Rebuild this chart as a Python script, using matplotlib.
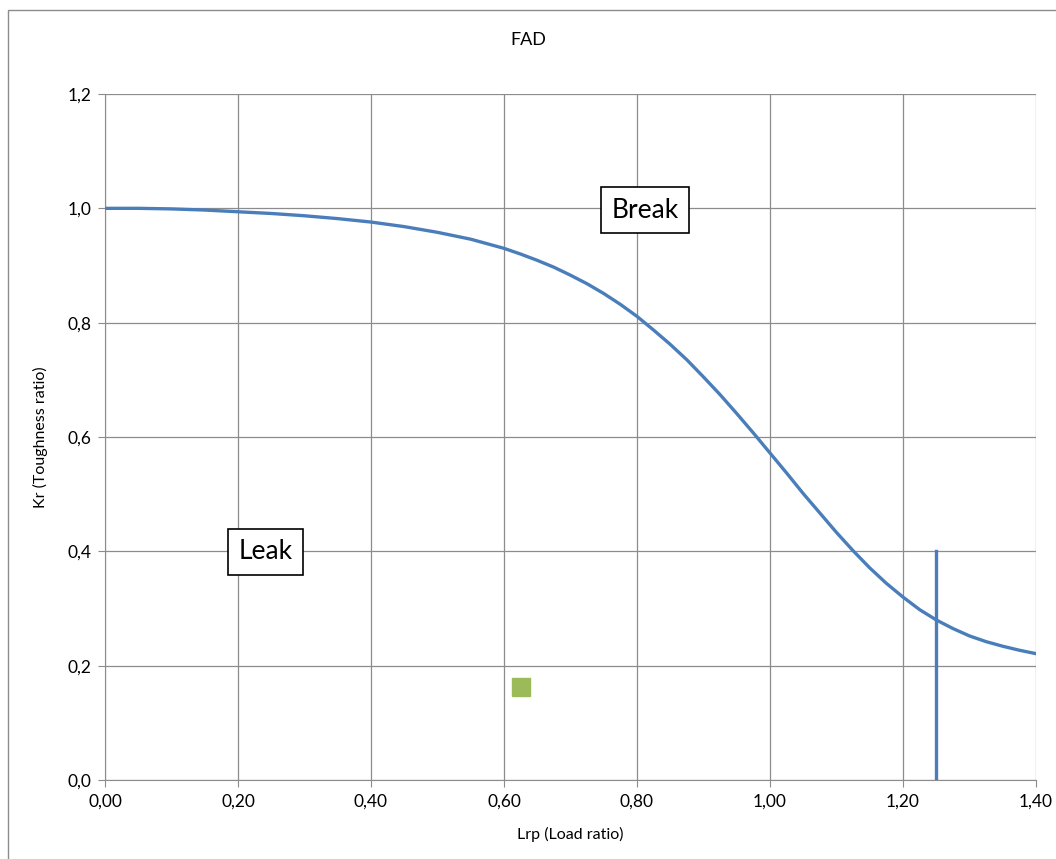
import matplotlib
matplotlib.use("Agg")
from matplotlib import pyplot as plt
from matplotlib.patches import Rectangle

plt.rcParams['font.family'] = ['Lato', 'DejaVu Sans']

# FAD curve
lr = [0.00, 0.05, 0.10, 0.15, 0.20, 0.25, 0.30, 0.35, 0.40, 0.45, 0.50,
      0.55, 0.575, 0.60, 0.625, 0.65, 0.675, 0.70, 0.725, 0.75, 0.775,
      0.80, 0.825, 0.85, 0.875, 0.90, 0.925, 0.95, 0.975, 1.00,
      1.025, 1.05, 1.075, 1.10, 1.125, 1.15, 1.175, 1.20, 1.225,
      1.25, 1.275, 1.30, 1.325, 1.35, 1.375, 1.40]
kr = [1.000, 1.000, 0.999, 0.997, 0.994, 0.991, 0.987, 0.982, 0.976, 0.968, 0.958,
      0.946, 0.938, 0.930, 0.920, 0.909, 0.897, 0.883, 0.868, 0.851, 0.832,
      0.811, 0.787, 0.762, 0.735, 0.705, 0.674, 0.641, 0.607, 0.572,
      0.537, 0.501, 0.467, 0.433, 0.401, 0.371, 0.344, 0.320, 0.298,
      0.280, 0.265, 0.252, 0.242, 0.234, 0.227, 0.221]
# cut-off line
cut_x = [1.25, 1.25]
cut_y = [0.0, 0.40]
# assessment point
pt_x = [0.625]
pt_y = [0.163]

blue = '#4A7EBB'
grey = '#8C8C8C'

fig = plt.figure(figsize=(10.56, 8.59), dpi=100)
fig.patches.append(Rectangle((8/1056, -0.1), 1.2, 1 - 10/859 + 0.1, transform=fig.transFigure,
                             fill=False, edgecolor=grey, lw=1))
ax = fig.add_axes([105/1056, 79/859, 931/1056, 686/859])

ax.plot(lr, kr, color=blue, lw=2.4, zorder=3, solid_joinstyle='round')
ax.plot(cut_x, cut_y, color=blue, lw=2.4, zorder=3)
ax.plot(pt_x, pt_y, 's', color='#9BBB59', markersize=13, zorder=4)

ax.set_xlim(0, 1.4)
ax.set_ylim(0, 1.2)
xt = [0, 0.2, 0.4, 0.6, 0.8, 1.0, 1.2, 1.4]
yt = [0, 0.2, 0.4, 0.6, 0.8, 1.0, 1.2]
ax.set_xticks(xt)
ax.set_xticklabels([('%.2f' % v).replace('.', ',') for v in xt])
ax.set_yticks(yt)
ax.set_yticklabels([('%.1f' % v).replace('.', ',') for v in yt])
ax.grid(True, color=grey, lw=0.9)
ax.set_axisbelow(True)
for s in ax.spines.values():
    s.set_color(grey)
ax.spines['top'].set_visible(False)
ax.spines['right'].set_visible(False)
ax.tick_params(colors=grey, labelcolor='black', labelsize=12.5, length=5, direction='out', pad=5)

ax.set_xlabel('Lrp (Load ratio)', fontsize=11.5, labelpad=12)
ax.set_ylabel('Kr (Toughness ratio)', fontsize=11.5, labelpad=14)
fig.text(0.5, 1 - 40/859, 'FAD', ha='center', va='center', fontsize=13)

box = dict(boxstyle='square,pad=0.4', fc='white', ec='black', lw=1.2)
ax.text(0.812, 0.997, 'Break', fontsize=19, ha='center', va='center', bbox=box, zorder=5)
ax.text(0.241, 0.399, 'Leak', fontsize=19, ha='center', va='center', bbox=box, zorder=5)

plt.savefig('out.png')
